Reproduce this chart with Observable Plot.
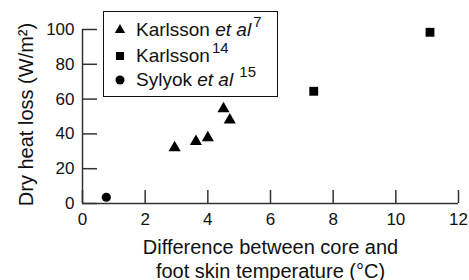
<!DOCTYPE html>
<html>
<head>
<meta charset="utf-8">
<script src="https://cdn.jsdelivr.net/npm/d3@7"></script>
<script src="https://cdn.jsdelivr.net/npm/@observablehq/plot@0.6"></script>
<style>
  html, body { margin: 0; padding: 0; background: #fff; }
  #wrap { position: relative; width: 469px; height: 280px; font-family: "Liberation Sans", Arial, sans-serif; }
  #wrap > svg { position: absolute; left: 0; top: 0; }
  #legend { position: absolute; left: 103px; top: 11px; width: 175px; height: 86px; box-sizing: border-box;
    border: 1.5px solid #111; background: #fff; font-size: 19px; color: #111; }
  #legend .row { position: absolute; left: 0; height: 20px; line-height: 20px; white-space: nowrap; }
  #legend .row svg { position: absolute; left: 9px; top: 3px; }
  #legend .row span.t { position: absolute; left: 32px; top: 0; }
  #legend sup { font-size: 15px; vertical-align: 0; position: relative; top: -9px; margin-left: 2px; }
</style>
</head>
<body>
<div id="wrap"></div>
<script>
// Data
const karlssonEtAlX = [2.94, 3.62, 4.0, 4.5, 4.7];
const karlssonEtAlY = [32, 35.6, 37.8, 54.5, 48];
const karlsson14X = [7.38, 11.09];
const karlsson14Y = [64.5, 98.4];
const sylyokX = [0.76];
const sylyokY = [3.6];

const xTicks = [0, 2, 4, 6, 8, 10, 12];
const yTicks = [0, 20, 40, 60, 80, 100];
const xTitle = "Difference between core and\nfoot skin temperature (°C)";
const yTitle = "Dry heat loss (W/m²)";

const legendItems = [
  {symbol: "triangle", html: 'Karlsson <i>et al</i><sup>7</sup>'},
  {symbol: "square", html: 'Karlsson<sup>14</sup>'},
  {symbol: "circle", html: 'Sylyok <i>et al</i><sup> 15</sup>'}
];

const pts = (xs, ys) => xs.map((x, i) => ({x, y: ys[i]}));
const tri = pts(karlssonEtAlX, karlssonEtAlY);
const sq = pts(karlsson14X, karlsson14Y);
const circ = pts(sylyokX, sylyokY);

const W = 469, H = 280;
const mL = 82, mR = 11, mT = 29, mB = 77;
const plotW = W - mL - mR, plotH = H - mT - mB;
const axisColor = "#333";

const chart = Plot.plot({
  width: W, height: H,
  marginLeft: mL, marginRight: mR, marginTop: mT, marginBottom: mB,
  style: {fontFamily: "'Liberation Sans', Arial, sans-serif", color: "#111", background: "transparent", overflow: "visible"},
  x: {domain: [0, 12], axis: null},
  y: {domain: [0, 100], axis: null},
  marks: [
    // inward tick marks
    Plot.tickX(xTicks, {x: d => d, insetTop: plotH - 13, stroke: axisColor, strokeWidth: 1.5}),
    Plot.tickY(yTicks, {y: d => d, insetRight: plotW - 15, stroke: axisColor, strokeWidth: 1.5}),
    // axis lines
    Plot.ruleX([0], {stroke: axisColor, strokeWidth: 1.5}),
    Plot.ruleY([0], {stroke: axisColor, strokeWidth: 1.5}),
    // tick labels
    Plot.axisX({ticks: xTicks, tickSize: 0, tickPadding: 9, fontSize: 17, tickFormat: d => String(d), label: null}),
    Plot.axisY({ticks: yTicks, tickSize: 0, tickPadding: 8, fontSize: 17, tickFormat: d => String(d), label: null}),
    // axis titles
    Plot.text([xTitle], {frameAnchor: "bottom", dy: 34, lineAnchor: "top", textAnchor: "middle", fontSize: 20, lineHeight: 1.17, fill: "#111"}),
    Plot.text([yTitle], {frameAnchor: "left", dx: -56, dy: -2, rotate: -90, textAnchor: "middle", lineAnchor: "middle", fontSize: 20, fill: "#111"}),
    // data
    Plot.dot(tri, {x: "x", y: "y", symbol: "triangle", r: 4.5, fill: "#000", stroke: "none"}),
    Plot.dot(sq, {x: "x", y: "y", symbol: "square", r: 5, fill: "#000", stroke: "none"}),
    Plot.dot(circ, {x: "x", y: "y", symbol: "circle", r: 4.6, fill: "#000", stroke: "none"})
  ]
});

const wrap = document.getElementById("wrap");
wrap.appendChild(chart);

// Legend
const legend = document.createElement("div");
legend.id = "legend";
const rowTops = [8, 34, 58];
const symbolPaths = {
  triangle: d3.symbol(d3.symbolTriangle, Math.PI * 3.8 * 3.8)(),
  square: d3.symbol(d3.symbolSquare, Math.PI * 4.5 * 4.5)(),
  circle: d3.symbol(d3.symbolCircle, Math.PI * 4.5 * 4.5)()
};
legendItems.forEach((item, i) => {
  const row = document.createElement("div");
  row.className = "row";
  row.style.top = rowTops[i] + "px";
  row.innerHTML = `<svg width="14" height="14" viewBox="-7 -7 14 14"><path d="${symbolPaths[item.symbol]}" fill="#000"/></svg><span class="t">${item.html}</span>`;
  legend.appendChild(row);
});
wrap.appendChild(legend);
</script>
</body>
</html>
